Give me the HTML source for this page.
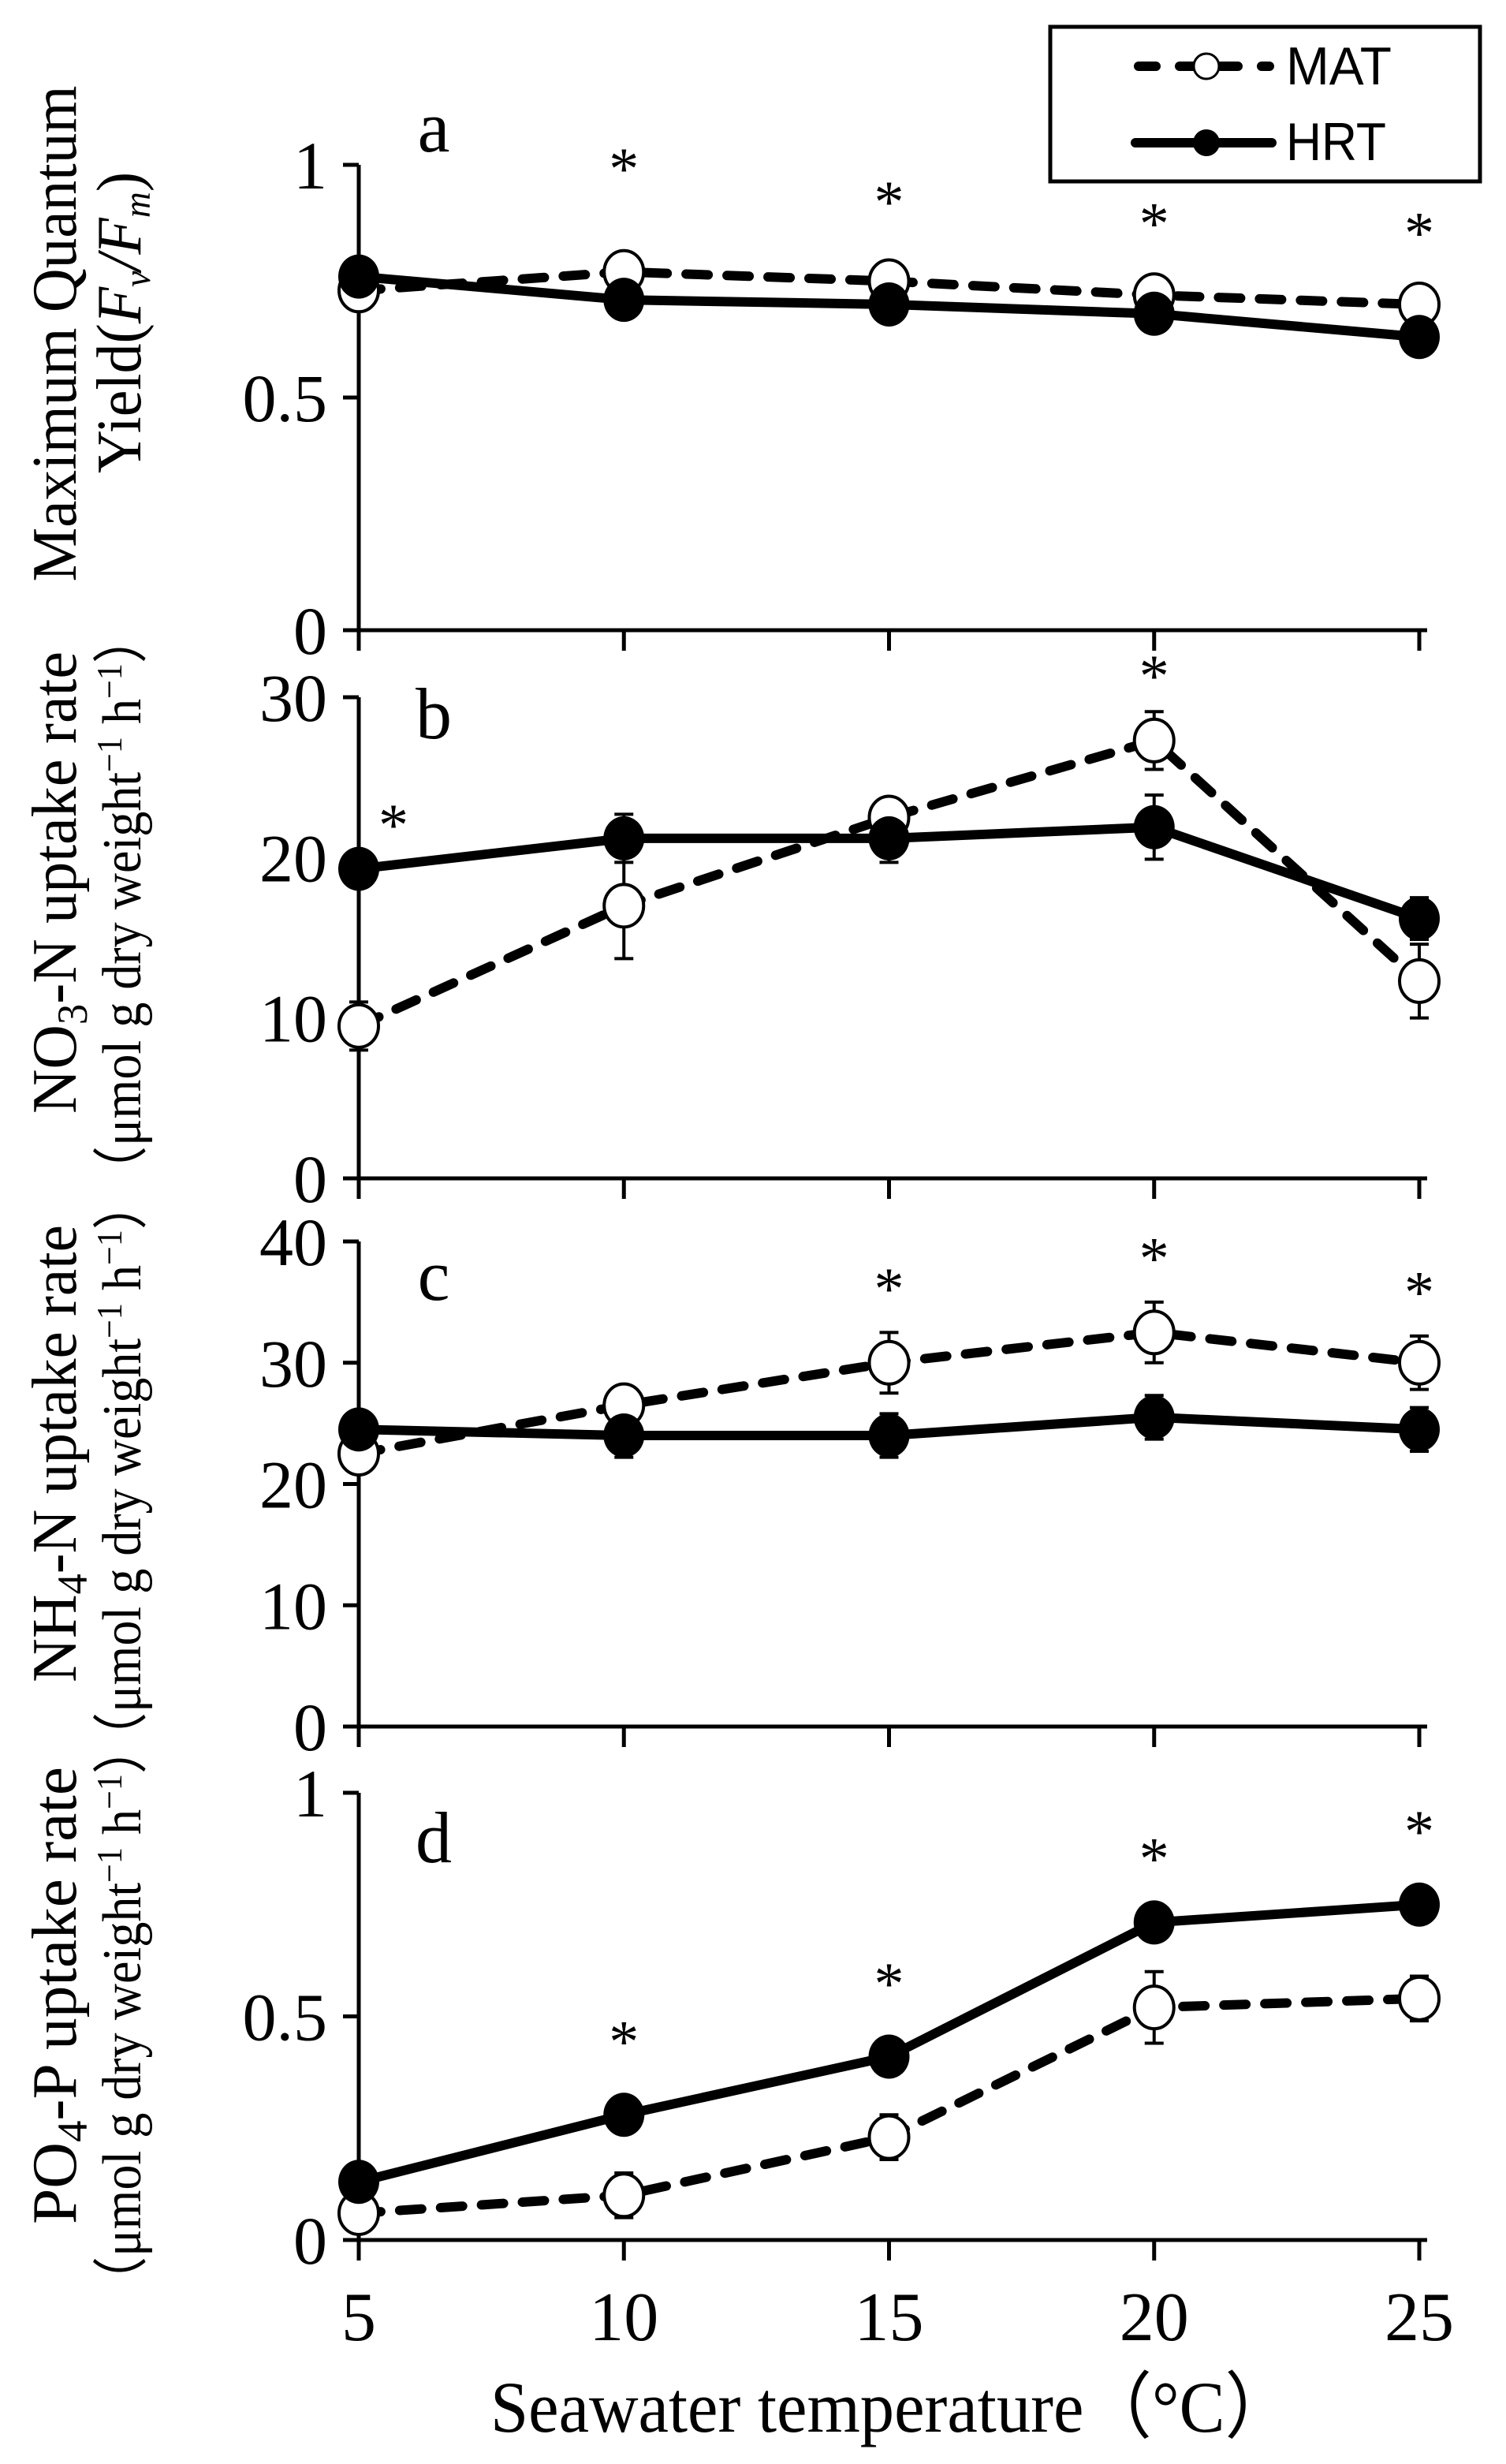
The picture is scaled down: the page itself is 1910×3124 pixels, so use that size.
<!DOCTYPE html>
<html><head><meta charset="utf-8"><style>
html,body{margin:0;padding:0;background:#fff;}
svg{display:block;font-family:"Liberation Serif",serif;}
</style></head><body>
<svg id="chart" width="1910" height="3124" viewBox="0 0 1910 3124" xmlns="http://www.w3.org/2000/svg">
<g id="legend">
<rect x="1332" y="34" width="545" height="196" fill="#fff" stroke="#000" stroke-width="5"/>
<g>
<line x1="1444" y1="84" x2="1610" y2="84" stroke="#000" stroke-width="12" stroke-dasharray="22,30" stroke-linecap="round"/>
<circle cx="1530" cy="84" r="16" fill="#fff" stroke="#000" stroke-width="3"/>
<text x="1631" y="107" font-family="Liberation Sans,sans-serif" font-size="68" textLength="134" lengthAdjust="spacingAndGlyphs">MAT</text></g>
<g>
<line x1="1440" y1="181" x2="1613" y2="181" stroke="#000" stroke-width="12" stroke-linecap="round"/>
<circle cx="1530" cy="181" r="17" fill="#000"/>
<text x="1631" y="203" font-family="Liberation Sans,sans-serif" font-size="68" textLength="127" lengthAdjust="spacingAndGlyphs">HRT</text></g>
</g>
<g id="plots"></g>
<text x="1131" y="3083" font-size="92" text-anchor="middle" textLength="1018" lengthAdjust="spacingAndGlyphs">Seawater temperature（°C）</text>
</svg>
<script>
const temps = [5, 10, 15, 20, 25];
const aMAT = [0.73, 0.77, 0.75, 0.72, 0.70];
const aHRT = [0.76, 0.71, 0.70, 0.68, 0.63];
const aMATerr = [0, 0, 0, 0, 0];
const aHRTerr = [0, 0, 0, 0, 0];
const bMAT = [9.5, 17, 22.5, 27.3, 12.3];
const bHRT = [19.3, 21.2, 21.2, 21.9, 16.2];
const bMATerr = [1.5, 3.3, 1.0, 1.8, 2.3];
const bHRTerr = [1.0, 1.5, 1.5, 2.0, 1.3];
const cMAT = [22.5, 26.5, 30, 32.5, 30];
const cHRT = [24.5, 24, 24, 25.5, 24.5];
const cMATerr = [0.5, 1.0, 2.5, 2.5, 2.2];
const cHRTerr = [1.0, 1.8, 1.8, 1.8, 1.8];
const dMAT = [0.06, 0.10, 0.23, 0.52, 0.54];
const dHRT = [0.13, 0.28, 0.41, 0.71, 0.75];
const dMATerr = [0.03, 0.05, 0.05, 0.08, 0.05];
const dHRTerr = [0.01, 0.03, 0.03, 0.01, 0.03];
const aTicks = [0, 0.5, 1];
const bTicks = [0, 10, 20, 30];
const cTicks = [0, 10, 20, 30, 40];
const dTicks = [0, 0.5, 1];
const aStars = [false, true, true, true, true];
const bStars = [true, false, false, true, false];
const cStars = [false, false, true, true, true];
const dStars = [false, true, true, true, true];

const NS = "http://www.w3.org/2000/svg";
const root = document.getElementById('plots');
const X0 = 455, X1 = 1800;
function xs(t){ return X0 + (t - temps[0]) / (temps[temps.length-1] - temps[0]) * (X1 - X0); }
function mk(tag, attrs, parent){ const e = document.createElementNS(NS, tag); for (const k in attrs) e.setAttribute(k, attrs[k]); (parent||root).appendChild(e); return e; }
const unit = '（μmol g dry weight<tspan font-size="46" dy="-24">−1</tspan><tspan dy="24"> h</tspan><tspan font-size="46" dy="-24">−1</tspan><tspan dy="24">）</tspan>';
const panels = [
 {id:'a', mat:aMAT, hrt:aHRT, me:aMATerr, he:aHRTerr, ticks:aTicks, stars:aStars, y0:799, y1:209, max:1, titles:['Maximum Quantum','Yield(<tspan font-style="italic">F</tspan><tspan font-size="48" dy="12" font-style="italic">v</tspan><tspan dy="-12" font-style="italic">/F</tspan><tspan font-size="48" dy="12" font-style="italic">m</tspan><tspan dy="-12">)</tspan>'], tc:[423,409], tl:[629,382], fs:[80,80], lo:-17, so:0},
 {id:'b', mat:bMAT, hrt:bHRT, me:bMATerr, he:bHRTerr, ticks:bTicks, stars:bStars, y0:1494, y1:884, max:30, titles:['NO<tspan font-size="54" dy="14">3</tspan><tspan dy="-14">-N uptake rate</tspan>', unit], tc:[1119,1147], tl:[586,740], fs:[80,70], lo:52, so:0},
 {id:'c', mat:cMAT, hrt:cHRT, me:cMATerr, he:cHRTerr, ticks:cTicks, stars:cStars, y0:2189, y1:1574, max:40, titles:['NH<tspan font-size="54" dy="14">4</tspan><tspan dy="-14">-N uptake rate</tspan>', unit], tc:[1843,1865], tl:[580,740], fs:[80,70], lo:74, so:-10},
 {id:'d', mat:dMAT, hrt:dHRT, me:dMATerr, he:dHRTerr, ticks:dTicks, stars:dStars, y0:2840, y1:2273, max:1, titles:['PO<tspan font-size="54" dy="14">4</tspan><tspan dy="-14">-P uptake rate</tspan>', unit], tc:[2530,2555], tl:[580,740], fs:[80,70], lo:88, so:-30}
];

panels.forEach(p => {
  const g = mk('g', {});
  
  
  const ys = v => p.y0 - v / p.max * (p.y0 - p.y1);
  const ya = mk('line', {x1:X0, y1:p.y1, x2:X0, y2:p.y0, stroke:'#000', 'stroke-width':5}, g);
  
  
  const xa = mk('line', {x1:X0-20, y1:p.y0, x2:X1+10, y2:p.y0, stroke:'#000', 'stroke-width':5}, g);
  
  
  temps.forEach(t => { mk('line', {x1:xs(t), y1:p.y0, x2:xs(t), y2:p.y0+26, stroke:'#000', 'stroke-width':5}, g); });
  p.ticks.forEach(v => {
    mk('line', {x1:X0-20, y1:ys(v), x2:X0, y2:ys(v), stroke:'#000', 'stroke-width':5}, g);
    const tl = mk('text', {x:X0-40, y:ys(v)+30, 'font-size':86, 'text-anchor':'end'}, g);
    tl.textContent = v;
    
    
  });
  const pl = mk('text', {x:550, y:p.y1 + p.lo, 'font-size':92, 'text-anchor':'middle'}, g);
  pl.textContent = p.id;
  
  
  p.titles.forEach((tt, i) => {
    const tx = i === 0 ? 96 : 178;
    const cy = p.tc[i];
    const te = mk('text', {x:tx, y:cy, 'font-size':p.fs[i], 'text-anchor':'middle', textLength:p.tl[i], lengthAdjust:'spacingAndGlyphs', transform:'rotate(-90 '+tx+' '+cy+')'}, g);
    te.innerHTML = tt;
    
    
  });
  [[p.mat, p.me], [p.hrt, p.he]].forEach(([vals, errs]) => {
    vals.forEach((v, i) => {
      if (!errs[i]) return;
      const x = xs(temps[i]);
      const yt = ys(v + errs[i]), yb = ys(v - errs[i]);
      const eb = mk('path', {d:`M${x} ${yt}V${yb}M${x-12} ${yt}H${x+12}M${x-12} ${yb}H${x+12}`, stroke:'#000', 'stroke-width':4, fill:'none'}, g);
      
      
    });
  });
  const pts = vals => vals.map((v, i) => xs(temps[i]) + ',' + ys(v)).join(' ');
  const lm = mk('polyline', {points:pts(p.mat), fill:'none', stroke:'#000', 'stroke-width':12, 'stroke-dasharray':'28,24', 'stroke-linecap':'round'}, g);
  
  
  const lh = mk('polyline', {points:pts(p.hrt), fill:'none', stroke:'#000', 'stroke-width':12}, g);
  
  
  p.mat.forEach((v, i) => {
    const c = mk('ellipse', {cx:xs(temps[i]), cy:ys(v), rx:25, ry:27, fill:'#fff', stroke:'#000', 'stroke-width':4}, g);
    
    
  });
  p.hrt.forEach((v, i) => {
    const c = mk('ellipse', {cx:xs(temps[i]), cy:ys(v), rx:26, ry:28, fill:'#000'}, g);
    
    
  });
  p.stars.forEach((s, i) => {
    if (!s) return;
    const top = Math.max(p.mat[i] + p.me[i], p.hrt[i] + p.he[i]);
    let sx = xs(temps[i]), sy = ys(top) - 50 + p.so;
    if (p.id === 'b' && i === 0) { sx += 44; sy = ys(p.hrt[i]) - 60; }
    if (p.id === 'a') sy = ys(top) - 95 + (i===1?-40:0) + (i===2?-10:0);
    const st = mk('text', {x:sx, y:sy + 30, 'font-size':76, 'text-anchor':'middle'}, g);
    st.textContent = '*';
    
    
  });
});
temps.forEach(t => {
  const tl = mk('text', {x:xs(t), y:2967, 'font-size':88, 'text-anchor':'middle'});
  tl.textContent = t;
  
  
});
</script>
</body></html>
